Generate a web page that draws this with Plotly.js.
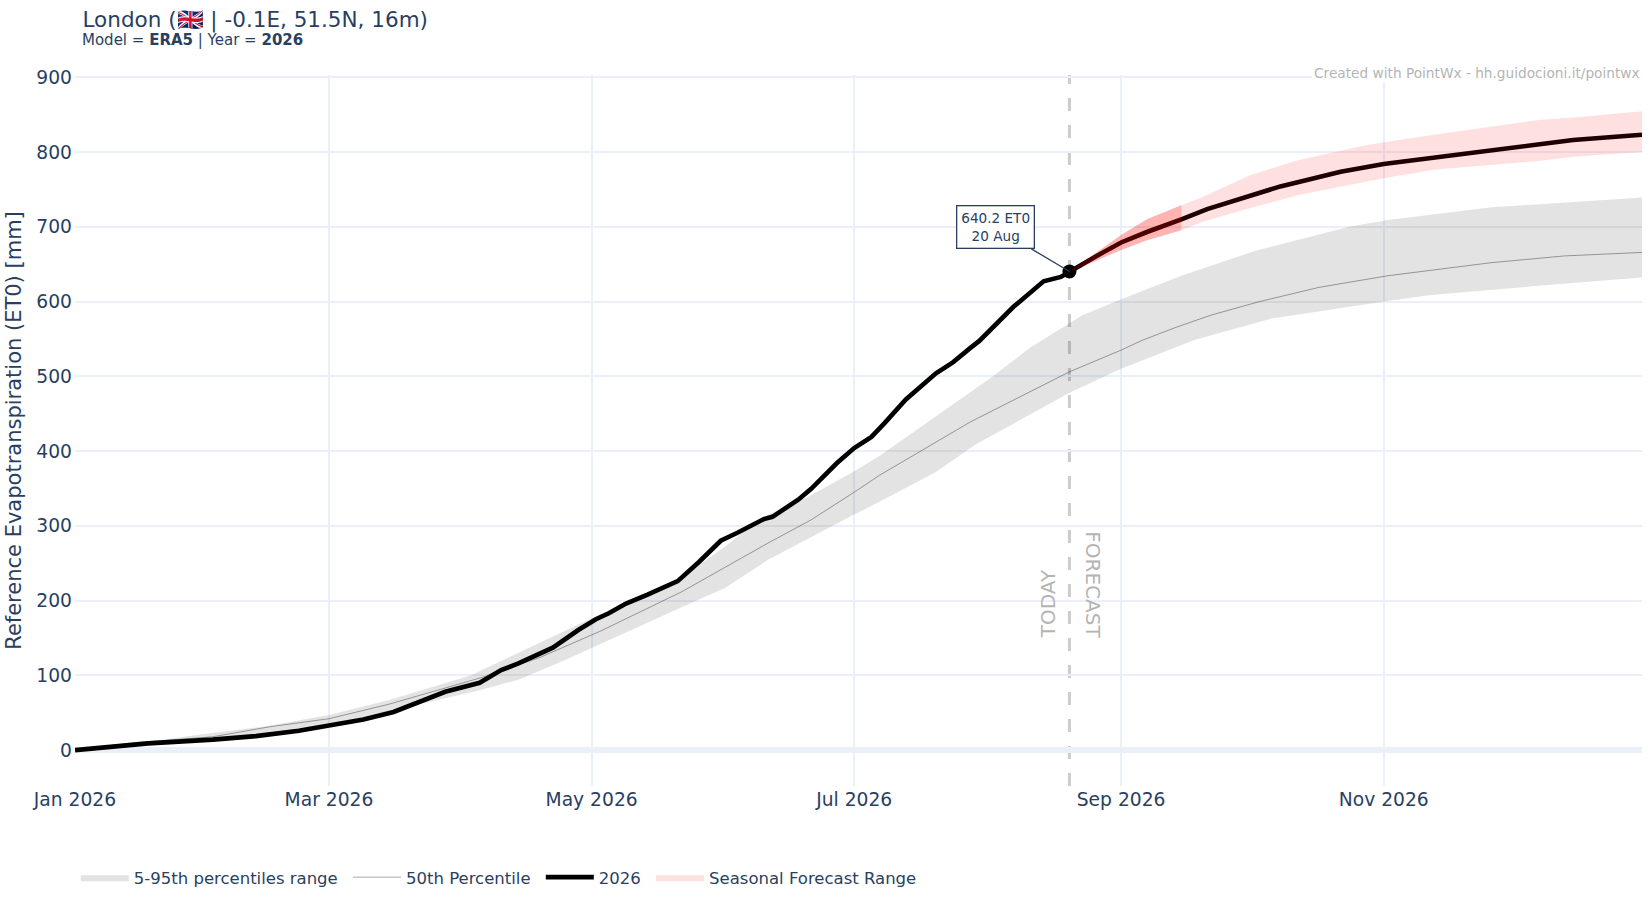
<!DOCTYPE html>
<html>
<head>
<meta charset="utf-8">
<script src="https://cdn.plot.ly/plotly-3.0.1.min.js"></script>
<style>
  html, body { margin: 0; padding: 0; background: #fff; }
</style>
</head>
<body>
<div id="myDiv" style="width:1650px;height:900px;"></div>
<script>
const obsDates = ['2026-01-01','2026-01-18','2026-02-02','2026-02-12','2026-02-22','2026-03-01','2026-03-09','2026-03-16','2026-03-21','2026-03-28','2026-04-05','2026-04-10','2026-04-14','2026-04-16','2026-04-22','2026-04-28','2026-05-02','2026-05-05','2026-05-09','2026-05-14','2026-05-21','2026-05-26','2026-05-31','2026-06-04','2026-06-10','2026-06-12','2026-06-16','2026-06-18','2026-06-21','2026-06-27','2026-07-01','2026-07-05','2026-07-08','2026-07-13','2026-07-20','2026-07-24','2026-07-28','2026-07-30','2026-08-07','2026-08-14','2026-08-18','2026-08-20','2026-08-26','2026-09-01','2026-09-07','2026-09-15','2026-09-21','2026-10-08','2026-10-22','2026-11-01','2026-11-15','2026-11-25','2026-12-15','2026-12-31'];
const obsValues = [0,9,14,18.7,26,33,41,51,62,78,90,107,116,121,137,161,175,183,196,208,226,252,280,291,309,312,328,335,349.5,384,404,419,437,469,504,519,538,547,593,627,633,640.2,660,679,693,710,723.6,754,773.5,784,794,802,816,823];

const upperDates = ['2026-01-01','2026-01-15','2026-01-31','2026-02-15','2026-03-01','2026-03-15','2026-04-03','2026-04-14','2026-05-01','2026-05-21','2026-05-31','2026-06-10','2026-06-21','2026-07-01','2026-07-07','2026-08-02','2026-08-11','2026-08-23','2026-09-01','2026-09-15','2026-10-02','2026-10-24','2026-11-02','2026-11-26','2026-12-31'];
const upperValues = [0,9,21.4,32.5,47,67,100,130,176.5,228,268,312,341,373,394,499,539,581.6,603,634.5,667.5,700,709,726,739];

const lowerDates = ['2026-01-01','2026-02-07','2026-03-01','2026-03-18','2026-04-05','2026-04-14','2026-04-25','2026-05-01','2026-05-25','2026-06-01','2026-06-11','2026-07-01','2026-07-07','2026-07-20','2026-07-29','2026-08-20','2026-09-01','2026-09-18','2026-09-23','2026-10-06','2026-11-02','2026-11-12','2026-12-09','2026-12-31'];
const lowerValues = [0,15.6,31,56,80,94,121,137,199,217,254.5,315,332.5,372,408,478,510,548.4,557,577.4,600.6,608.6,622,632];

const medianDates = ['2026-01-01','2026-01-15','2026-02-02','2026-02-15','2026-03-01','2026-03-15','2026-04-06','2026-04-19','2026-05-03','2026-05-22','2026-06-11','2026-06-21','2026-07-01','2026-07-07','2026-07-28','2026-08-20','2026-09-01','2026-09-06','2026-09-14','2026-09-22','2026-10-03','2026-10-17','2026-11-02','2026-11-26','2026-12-13','2026-12-31'];
const medianValues = [0,10,17.8,31,42,61.5,98,124,159,212,277,308,345,368,439,506,535,548.4,566,582,599.7,619,634.5,652,661,665.7];

const seasonDates = ['2026-08-20','2026-08-26','2026-09-01','2026-09-07','2026-09-15','2026-09-20','2026-10-01','2026-10-12','2026-10-27','2026-11-01','2026-11-13','2026-11-25','2026-12-07','2026-12-15','2026-12-31'];
const seasonUpper = [640.2,664,689,710,729,740,769,789,808,813,823.5,833,842.7,846,854.6];
const seasonLower = [640.2,654,669,682,695.5,706.7,725,742,759,765,776.7,782,788,793.6,800];

const closeDates = ['2026-08-20','2026-08-26','2026-09-01','2026-09-07','2026-09-15'];
const closeUpper = [640.2,664,689,710,729];
const closeLower = [640.2,654,669,682,695.5];

const todayDate = '2026-08-20';
const todayValue = 640.2;

const titleColor = '#2a3f5f';

function band(xs, up, xsLow, low) {
    return {
        x: xs.concat(xsLow.slice().reverse()),
        y: up.concat(low.slice().reverse())
    };
}

const gray = band(upperDates, upperValues, lowerDates, lowerValues);
const season = band(seasonDates, seasonUpper, seasonDates, seasonLower);
const close = band(closeDates, closeUpper, closeDates, closeLower);

var data = [
    {
        type: 'scatter', mode: 'lines', name: '5-95th percentiles range\u00a0',
        x: gray.x, y: gray.y,
        fill: 'toself', fillcolor: 'rgba(0,0,0,0.11)',
        line: { width: 0 }, hoverinfo: 'skip'
    },
    {
        type: 'scatter', mode: 'lines', name: '50th Percentile\u00a0',
        x: medianDates, y: medianValues,
        line: { color: 'rgba(0,0,0,0.35)', width: 1 }
    },
    {
        type: 'scatter', mode: 'lines', name: '2026\u00a0',
        x: obsDates, y: obsValues,
        line: { color: '#000000', width: 4.6 }
    },
    {
        type: 'scatter', mode: 'markers', showlegend: false,
        x: [todayDate], y: [todayValue],
        marker: { color: '#000000', size: 14 }
    },
    {
        type: 'scatter', mode: 'lines', name: 'Seasonal Forecast Range',
        x: season.x, y: season.y,
        fill: 'toself', fillcolor: 'rgba(255,0,0,0.12)',
        line: { width: 0 }, hoverinfo: 'skip'
    },
    {
        type: 'scatter', mode: 'lines', showlegend: false,
        x: close.x, y: close.y,
        fill: 'toself', fillcolor: 'rgba(255,0,0,0.2)',
        line: { width: 0 }, hoverinfo: 'skip'
    }
];

var layout = {
    width: 1650,
    height: 900,
    margin: { l: 75, r: 8, t: 75, b: 114, pad: 0, autoexpand: false },
    paper_bgcolor: '#ffffff',
    plot_bgcolor: '#ffffff',
    font: { family: '"DejaVu Sans", sans-serif', size: 16, color: titleColor },
    title: {
        text: 'London (🇬🇧 | -0.1E, 51.5N, 16m)',
        font: { size: 21.5, color: titleColor },
        xref: 'container', x: 0.05, xanchor: 'left',
        yref: 'container', y: 0.978, yanchor: 'middle'
    },
    xaxis: {
        type: 'date',
        range: ['2026-01-01', '2026-12-31'],
        dtick: 'M2',
        tick0: '2026-01-01',
        tickformat: '%b %Y',
        showgrid: true, gridcolor: '#EBF0F8', gridwidth: 1.5,
        zeroline: false, showline: false, ticks: '',
        tickfont: { size: 18.7 }
    },
    yaxis: {
        range: [-48, 903],
        dtick: 100,
        showgrid: true, gridcolor: '#EBF0F8', gridwidth: 1.5,
        zeroline: true, zerolinecolor: '#EBF0F8', zerolinewidth: 6,
        showline: false, ticks: '',
        ticklabelstandoff: 2,
        tickfont: { size: 18.7 },
        title: { text: 'Reference Evapotranspiration (ET0) [mm]', font: { size: 21 }, standoff: 8 }
    },
    legend: {
        orientation: 'h', x: 0.0005, xanchor: 'left', y: -0.104, yanchor: 'top',
        font: { size: 16.5 }, itemwidth: 48, traceorder: 'normal'
    },
    shapes: [
        {
            type: 'line', xref: 'x', yref: 'paper',
            x0: todayDate, x1: todayDate, y0: 0, y1: 1,
            line: { color: 'rgba(128,128,128,0.4)', width: 3, dash: '13px,14px' },
            layer: 'below'
        }
    ],
    annotations: [
        {
            x: 0.0032, y: 1.049, xref: 'paper', yref: 'paper',
            xanchor: 'left', yanchor: 'middle', showarrow: false,
            text: 'Model = <b>ERA5</b> | Year = <b>2026</b>',
            font: { size: 15, color: titleColor }
        },
        {
            x: todayDate, y: todayValue, xref: 'x', yref: 'y',
            text: '640.2 ET0<br>20 Aug',
            showarrow: true, arrowhead: 0, arrowwidth: 1.3, arrowcolor: titleColor,
            ax: -74, ay: -44,
            bgcolor: '#ffffff', bordercolor: titleColor, borderwidth: 1.3, borderpad: 4,
            font: { size: 13.6, color: titleColor }
        },
        {
            x: todayDate, y: 147, xref: 'x', yref: 'y',
            text: 'TODAY', textangle: -90, showarrow: false,
            xanchor: 'right', yanchor: 'bottom', xshift: -8,
            font: { size: 20, color: '#b4b4b4' }
        },
        {
            x: todayDate, y: 147, xref: 'x', yref: 'y',
            text: 'FORECAST', textangle: 90, showarrow: false,
            xanchor: 'left', yanchor: 'bottom', xshift: 10,
            font: { size: 20, color: '#b4b4b4' }
        },
        {
            x: 1, y: 1, xref: 'paper', yref: 'paper',
            xanchor: 'right', yanchor: 'top', yshift: 12,
            text: 'Created with PointWx - hh.guidocioni.it/pointwx',
            showarrow: false, bgcolor: '#ffffff',
            font: { size: 13.7, color: '#b4b4b4' }
        }
    ]
};

const config = { displayModeBar: false };

Plotly.newPlot('myDiv', data, layout, config);
</script>
</body>
</html>
